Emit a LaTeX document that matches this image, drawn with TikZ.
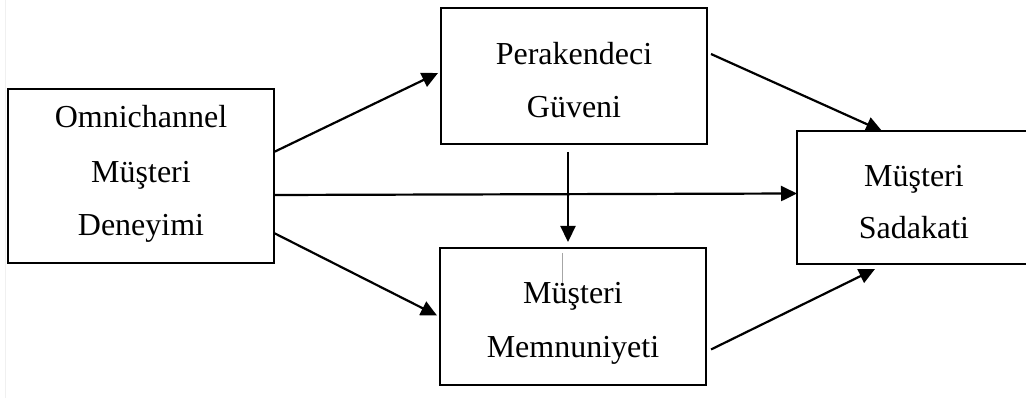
\documentclass[tikz,border=0pt]{standalone}
\usepackage{fontspec}
\setmainfont{Liberation Serif}
\usetikzlibrary{arrows.meta,calc}

\tikzset{
  box/.style={draw, line width=2.2pt, inner sep=0pt, outer sep=0pt},
  lbl/.style={anchor=base, inner sep=0pt, font=\fontsize{32}{32}\selectfont},
  arr/.style={line width=2.2pt, -{Triangle[length=16pt,width=15pt]}},
}

\begin{document}
\begin{tikzpicture}[x=1pt,y=-1pt]
  \useasboundingbox (0,0) rectangle (1026,398);
  \clip (0,0) rectangle (1026,398);

  % thin margin rule on the left
  \draw[gray!12, line width=1.5pt] (5.5,0) -- (5.5,398);

  % boxes
  \node[box, minimum width=266pt, minimum height=174pt] (omni)  at (141,176)   {};
  \node[box, minimum width=266pt, minimum height=136pt] (trust) at (574,76)    {};
  \node[box, minimum width=266pt, minimum height=137pt] (sat)   at (573,316.5) {};
  \node[box, minimum width=234pt, minimum height=133pt] (loyal) at (914,197.5) {};

  % labels
  \node[lbl] (omniA) at (141,128) {Omnichannel};
  \node[lbl] (omniB) at (141,183) {Müşteri};
  \node[lbl] (omniC) at (141,236) {Deneyimi};

  \node[lbl] (trustA) at (574,65)  {Perakendeci};
  \node[lbl] (trustB) at (574,118) {Güveni};

  \node[lbl] (satA) at (573,303) {Müşteri};
  \node[lbl] (satB) at (573,357) {Memnuniyeti};

  \node[lbl] (loyalA) at (914,187) {Müşteri};
  \node[lbl] (loyalB) at (914,239) {Sadakati};

  % thin stroke inside the satisfaction box
  \draw[gray!70, line width=0.8pt] ([xshift=-11pt,yshift=-5pt]sat.north) -- ([xshift=-11pt,yshift=-35pt]sat.north);

  % connectors
  \draw[arr] ([yshift=24pt]omni.east) -- ([xshift=-3pt,yshift=3pt]trust.west);
  \draw[arr] ([yshift=-19pt]omni.east) -- ([yshift=4pt]loyal.west);
  \draw[arr] ([yshift=-57pt]omni.east) -- ([xshift=-3pt,yshift=1pt]sat.west);
  \draw[arr] ([xshift=-6pt,yshift=-8pt]trust.south) -- ([xshift=-5pt,yshift=6pt]sat.north);
  \draw[arr] ([xshift=4pt,yshift=22pt]trust.east) -- ([xshift=-32pt]loyal.north);
  \draw[arr] ([xshift=5pt,yshift=-33pt]sat.east) -- ([xshift=-39pt,yshift=-5pt]loyal.south);
\end{tikzpicture}
\end{document}
